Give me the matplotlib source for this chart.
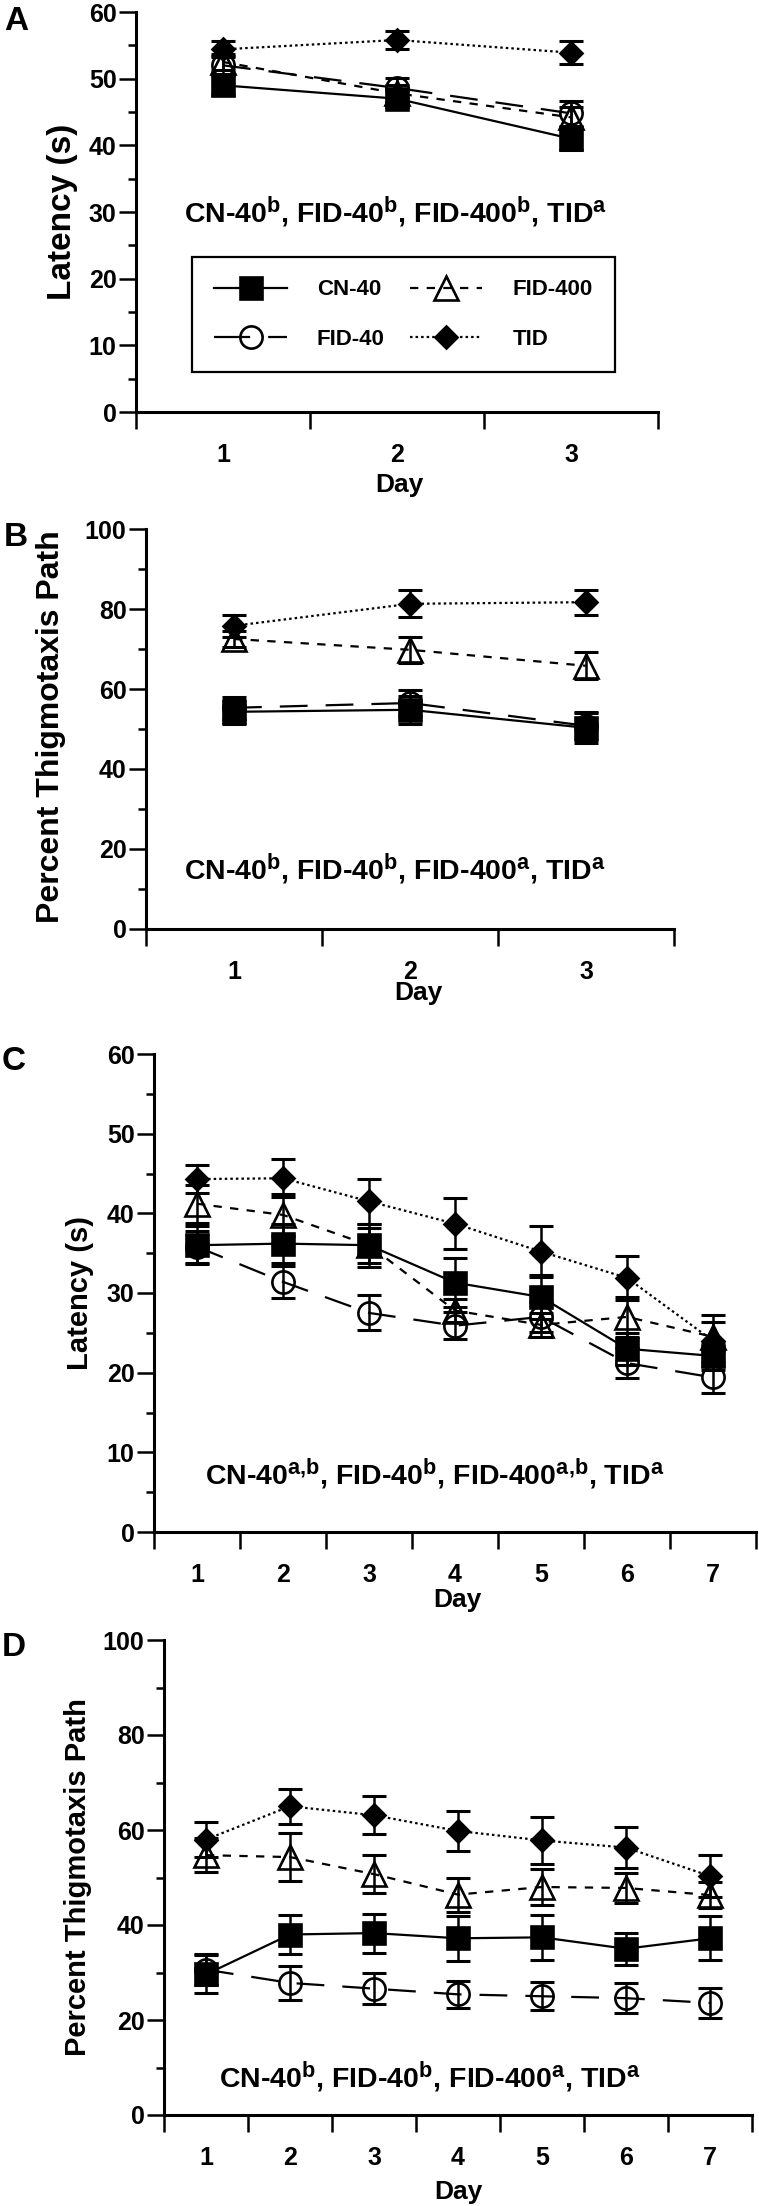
import matplotlib
matplotlib.use("Agg")
import matplotlib.pyplot as plt
import matplotlib._mathtext as mathtext_internal
from matplotlib.lines import Line2D
from matplotlib.ticker import MultipleLocator

plt.rcParams['font.family'] = ['Liberation Sans', 'DejaVu Sans']
plt.rcParams['font.weight'] = 'bold'
plt.rcParams['mathtext.default'] = 'regular'
plt.rcParams['lines.scale_dashes'] = False
# superscripts in the figure are a bit larger than mathtext's default
mathtext_internal.SHRINK_FACTOR = 0.76

# ---- data ----
days3 = [1, 2, 3]
days7 = [1, 2, 3, 4, 5, 6, 7]
groups = ['CN-40', 'FID-40', 'FID-400', 'TID']

# A: latency, 3 days
cn40_A = [49.0, 47.0, 41.0]
cn40_A_err = [1.5, 1.3, 1.7]
fid40_A = [52.0, 48.6, 44.8]
fid40_A_err = [1.4, 1.5, 1.9]
fid400_A = [52.5, 47.8, 44.2]
fid400_A_err = [1.2, 1.3, 1.6]
tid_A = [54.4, 55.8, 53.9]
tid_A_err = [1.2, 1.3, 1.7]

# B: percent thigmotaxis path, 3 days
cn40_B = [54.3, 54.8, 50.3]
cn40_B_err = [3.0, 3.5, 3.8]
fid40_B = [55.3, 56.5, 50.8]
fid40_B_err = [2.8, 3.2, 3.5]
fid400_B = [72.5, 69.8, 65.8]
fid400_B_err = [2.0, 3.3, 3.4]
tid_B = [75.8, 81.3, 81.7]
tid_B_err = [2.8, 3.4, 3.1]

# C: latency, 7 days
cn40_C = [36.0, 36.2, 36.0, 31.3, 29.5, 23.0, 22.1]
cn40_C_err = [2.4, 2.4, 2.7, 3.1, 2.8, 2.0, 1.8]
fid40_C = [35.8, 31.4, 27.5, 25.9, 27.0, 21.2, 19.4]
fid40_C_err = [2.0, 2.0, 2.2, 1.7, 1.9, 1.9, 1.9]
fid400_C = [41.2, 39.8, 36.0, 27.8, 26.0, 27.0, 24.5]
fid400_C_err = [2.4, 2.6, 2.2, 1.5, 1.5, 2.5, 1.8]
tid_C = [44.3, 44.4, 41.5, 38.7, 35.2, 31.9, 24.0]
tid_C_err = [1.8, 2.4, 2.8, 3.2, 3.2, 2.8, 3.2]

# D: percent thigmotaxis path, 7 days
cn40_D = [29.6, 38.0, 38.3, 37.2, 37.4, 35.0, 37.2]
cn40_D_err = [4.0, 4.1, 4.1, 4.8, 4.8, 3.4, 4.6]
fid40_D = [30.6, 27.8, 26.6, 25.4, 25.0, 24.6, 23.6]
fid40_D_err = [3.3, 3.6, 3.2, 2.8, 2.9, 3.1, 3.2]
fid400_D = [54.7, 54.3, 50.7, 46.4, 48.0, 47.8, 46.3]
fid400_D_err = [3.6, 5.0, 4.0, 3.6, 3.8, 3.2, 2.8]
tid_D = [58.0, 65.0, 63.1, 59.8, 57.8, 56.3, 50.3]
tid_D_err = [3.6, 3.7, 4.0, 4.2, 4.9, 4.4, 4.4]

notes = ['CN-40$^{b}$, FID-40$^{b}$, FID-400$^{b}$, TID$^{a}$',
         'CN-40$^{b}$, FID-40$^{b}$, FID-400$^{a}$, TID$^{a}$',
         'CN-40$^{a{,}b}$, FID-40$^{b}$, FID-400$^{a{,}b}$, TID$^{a}$',
         'CN-40$^{b}$, FID-40$^{b}$, FID-400$^{a}$, TID$^{a}$']

# line / marker styles per group
styles = {
    'CN-40': dict(marker='s', ms=16, mfc='black', ls='-'),
    'FID-40': dict(marker='o', ms=16, mfc='none', dashes=(20, 13)),
    'FID-400': dict(marker='^', ms=17, mfc='none', dashes=(6, 6)),
    'TID': dict(marker='D', ms=11.5, mfc='black', dashes=(1.8, 2.2)),
}
legend_dashes = {'FID-40': (26, 13)}

W, H = 759, 2206
fig = plt.figure(figsize=(W / 100, H / 100), dpi=100)


def px_axes(left, right, top, bottom):
    return fig.add_axes([left / W, 1 - bottom / H, (right - left) / W, (bottom - top) / H])


def draw(ax, x, series, ymax, ystep):
    for name, y, e in series:
        st = styles[name]
        ax.errorbar(x, y, yerr=e, fmt='none', ecolor='black', elinewidth=1.8,
                    capsize=8.3, capthick=2.2, zorder=2)
        kw = dict(color='black', lw=1.6, marker=st['marker'], ms=st['ms'],
                  mfc=st['mfc'], mec='black', mew=1.9, zorder=3)
        if 'dashes' in st:
            kw['dashes'] = st['dashes']
        else:
            kw['ls'] = st['ls']
        ax.plot(x, y, **kw)
    n = len(x)
    ax.set_xlim(0.5, n + 0.5)
    ax.set_ylim(0, ymax)
    for s in ['top', 'right']:
        ax.spines[s].set_visible(False)
    for s in ['left', 'bottom']:
        ax.spines[s].set_linewidth(2.2)
    ax.yaxis.set_major_locator(MultipleLocator(ystep))
    ax.yaxis.set_minor_locator(MultipleLocator(ystep / 2))
    ax.set_xticks(x)
    ax.set_xticks([i + 0.5 for i in range(n + 1)], minor=True)
    ax.tick_params(axis='y', which='major', length=12, width=1.8, labelsize=18, pad=2)
    ax.tick_params(axis='y', which='minor', length=6, width=1.8)
    ax.tick_params(axis='x', which='major', length=0, labelsize=18, pad=22)
    ax.tick_params(axis='x', which='minor', length=12, width=1.8)


# panel A
axA = px_axes(136, 658, 12, 412)
draw(axA, days3, [('CN-40', cn40_A, cn40_A_err), ('FID-40', fid40_A, fid40_A_err),
                  ('FID-400', fid400_A, fid400_A_err), ('TID', tid_A, tid_A_err)], 60, 10)
handles = []
for g in groups:
    st = styles[g]
    kw = dict(color='black', lw=1.6, marker=st['marker'], ms=st['ms'],
              mfc=st['mfc'], mec='black', mew=1.9)
    if 'dashes' in st:
        kw['dashes'] = legend_dashes.get(g, st['dashes'])
    handles.append(Line2D([], [], **kw))
leg = axA.legend(handles, groups, ncol=2, loc='center', bbox_to_anchor=(0.5125, 0.243),
                 frameon=True, fancybox=False, edgecolor='black', framealpha=1,
                 fontsize=16, handlelength=3.25, handletextpad=1.35, columnspacing=1.15,
                 labelspacing=1.3, borderpad=1.0, numpoints=1)
leg.get_frame().set_linewidth(1.6)

# panel B
axB = px_axes(146, 674, 529, 929)
draw(axB, days3, [('CN-40', cn40_B, cn40_B_err), ('FID-40', fid40_B, fid40_B_err),
                  ('FID-400', fid400_B, fid400_B_err), ('TID', tid_B, tid_B_err)], 100, 20)

# panel C
axC = px_axes(154, 756, 1054, 1532)
draw(axC, days7, [('CN-40', cn40_C, cn40_C_err), ('FID-40', fid40_C, fid40_C_err),
                  ('FID-400', fid400_C, fid400_C_err), ('TID', tid_C, tid_C_err)], 60, 10)

# panel D
axD = px_axes(164, 752, 1640, 2115)
draw(axD, days7, [('CN-40', cn40_D, cn40_D_err), ('FID-40', fid40_D, fid40_D_err),
                  ('FID-400', fid400_D, fid400_D_err), ('TID', tid_D, tid_D_err)], 100, 20)


def ftext(x, y, s, **kw):
    fig.text(x / W, 1 - y / H, s, **kw)


# panel letters
for letter, (x, y) in zip('ABCD', [(4, 30), (4, 546), (2, 1070), (2, 1656)]):
    ftext(x, y, letter, fontsize=24, fontweight='bold', ha='left', va='baseline')

# y labels
ylabels = ['Latency (s)', 'Percent Thigmotaxis Path', 'Latency (s)', 'Percent Thigmotaxis Path']
for s, (x, y, fs) in zip(ylabels, [(63, 212, 24), (51, 727, 23), (80, 1293, 21), (78, 1877, 21)]):
    ftext(x, y, s, fontsize=fs, fontweight='bold', rotation=90, ha='center', va='center')

# x labels
for x, y in [(399, 485), (418, 993), (457, 1600), (458, 2192)]:
    ftext(x, y, 'Day', fontsize=19, fontweight='bold', ha='center', va='center')

# group annotations
for s, (x, y) in zip(notes, [(396, 223), (395, 880), (435, 1485), (430, 2088)]):
    ftext(x, y, s, fontsize=20.5, fontweight='bold', ha='center', va='baseline')

fig.savefig('out.png', dpi=100)
